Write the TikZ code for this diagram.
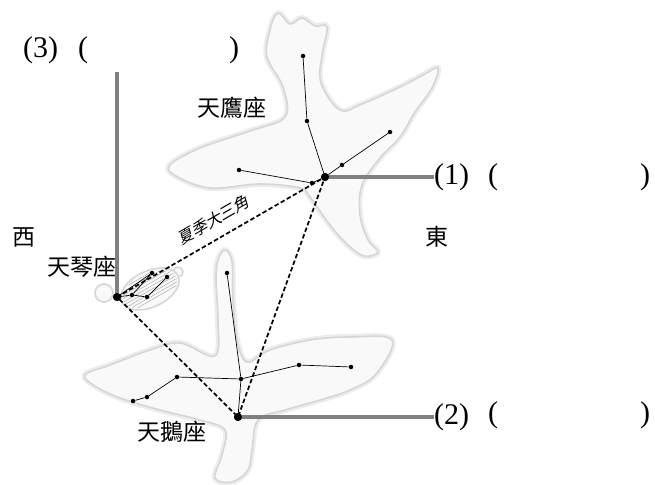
\documentclass[tikz,border=0pt]{standalone}
\usepackage{fontspec}
\setmainfont{Liberation Serif}
\newfontfamily\cjk{Noto Sans CJK TC}
\newfontfamily\cjkslant{Noto Sans CJK TC}[FakeSlant=0.25]
\usetikzlibrary{calc}
\usetikzlibrary{positioning}
\definecolor{featheredge}{RGB}{214, 214, 214}
\definecolor{featherglow}{RGB}{236, 236, 236}
\definecolor{featherfill}{RGB}{249, 249, 249}
\definecolor{leadgray}{RGB}{128, 128, 128}
\definecolor{hatchgray}{RGB}{160, 160, 160}

\tikzset{
  bird/.style={draw=featheredge, line width=1.6pt, fill=featherfill, line join=round},
  glow/.style={draw=featherglow, line width=6pt, line join=round},
  star/.style={circle, fill=black, inner sep=0pt, minimum size=4.5pt},
  bigstar/.style={circle, fill=black, inner sep=0pt, minimum size=8pt},
  stick/.style={black, line width=0.7pt},
  triangle/.style={black, line width=1.7pt, dash pattern=on 4.5pt off 2.5pt},
  lead/.style={leadgray, line width=3.5pt},
  conname/.style={font=\cjk\fontsize{23}{23}\selectfont, inner sep=0pt},
  answer/.style={font=\fontsize{30}{30}\selectfont, inner sep=0pt},
  bracket/.style={font=\fontsize{30}{30}\selectfont, inner sep=0pt},
}

\begin{document}
\begin{tikzpicture}[x=1pt, y=-1pt]
            \useasboundingbox (0,0) rectangle (655,484);
            % eagle and swan outlines
            \def\eagle{plot[smooth cycle, tension=0.6] coordinates {
                (278,13) (290,24) (302,18) (315,26) (327,27) (322,55) (321,83) (340,110)
                (362,104) (400,87) (425,74) (438,68) (432,88) (415,112) (400,137) (380,158)
                (362,185) (360,215) (368,240) (378,252) (364,256) (348,245) (330,225) (310,197)
                (300,188) (260,184) (210,188) (176,176) (170,165) (200,148) (250,131) (285,117)
                (283,87) (267,57) (270,30)}}
            \def\swan{plot[smooth cycle, tension=0.6] coordinates {
                (225,250) (232,262) (233,300) (237,340) (247,362) (270,350) (310,340) (350,337)
                (392,340) (376,374) (350,390) (320,400) (285,410) (258,420) (252,450) (248,470)
                (232,482) (215,478) (222,455) (225,430) (200,420) (160,410) (120,398) (95,386)
                (85,375) (110,365) (150,350) (180,343) (215,356) (218,320) (216,280) (218,260)}}
            \draw[glow] \eagle;
            \filldraw[bird] \eagle;
            \draw[glow] \swan;
            \filldraw[bird] \swan;
            % lyre
            \filldraw[bird] (104,293) circle (9);
            \filldraw[bird] (178,272) circle (5);
            \filldraw[bird, rotate around={25:(150,289)}] (150,289) ellipse (31 and 18);
            \begin{scope}
                \clip[rotate around={25:(150,289)}] (150,289) ellipse (29 and 16);
                \foreach \k in {0,...,9}
                    \draw[hatchgray, line width=0.4pt] (100,298+3.5*\k) -- ++(80,-46);
            \end{scope}
            % stars
            \node[bigstar] (altair) at (325,177) {};
            \node[bigstar] (vega)   at (117,297) {};
            \node[bigstar] (deneb)  at (238,417) {};
            \foreach \nm/\pos in {aql1/{303,56}, aql2/{307,121}, aql3/{390,132}, aql4/{342,165},
                                  aql5/{239,170}, aql6/{312,183},
                                  lyr1/{152,273}, lyr2/{167,277}, lyr3/{132,295}, lyr4/{147,297},
                                  cyg1/{227,273}, cyg2/{241,379}, cyg3/{177,377}, cyg4/{147,397},
                                  cyg5/{133,401}, cyg6/{299,365}, cyg7/{351,367}}
                \node[star] (\nm) at (\pos) {};
            \draw[stick] (aql1) -- (aql2) -- (altair);
            \draw[stick] (aql3) -- (aql4) -- (altair);
            \draw[stick] (aql5) -- (aql6) -- (altair);
            \draw[stick] (vega) -- (lyr1) -- (lyr3) -- (lyr4) -- (lyr2);
            \draw[stick] (vega) -- (lyr3);
            \draw[stick] (cyg1) -- (cyg2) -- (deneb);
            \draw[stick] (cyg5) -- (cyg4) -- (cyg3) -- (cyg2) -- (cyg6) -- (cyg7);
            \draw[triangle] (vega.center) -- (altair.center) -- (deneb.center) -- cycle;
            \node[font=\cjkslant\fontsize{16}{16}\selectfont, rotate=30, inner sep=0pt] (summer) at (213,220) {夏季大三角};
            % names
            \node[conname] (aquila) at (232,108) {天鷹座};
            \node[conname] (lyra)   at (82,267)  {天琴座};
            \node[conname] (cygnus) at (172,432) {天鵝座};
            \node[conname] (west)   at (24,237)  {西};
            \node[conname] (east)   at (437,237) {東};
            % answers
            \node[answer, anchor=west] (ans1) at (434,177) {(1)};
            \node[answer, anchor=west] (ans2) at (434,417) {(2)};
            \node[answer, anchor=west] (ans3) at (23,50)   {(3)};
            \node[bracket] (open1)  at (493,177) {(};
            \node[bracket] (shut1)  at (645,177) {)};
            \node[bracket] (open2)  at (493,415) {(};
            \node[bracket] (shut2)  at (645,415) {)};
            \node[bracket] (open3)  at (83,50)   {(};
            \node[bracket] (shut3)  at (234,50)  {)};
            \coordinate (top3) at (117,72);
            \draw[lead] (altair.center) -- (ans1.west);
            \draw[lead] (deneb.center) -- (ans2.west);
            \draw[lead] (vega.center) -- (top3);
            \node[bigstar] at (altair) {};
            \node[bigstar] at (vega) {};
            \node[bigstar] at (deneb) {};
\end{tikzpicture}
\end{document}
